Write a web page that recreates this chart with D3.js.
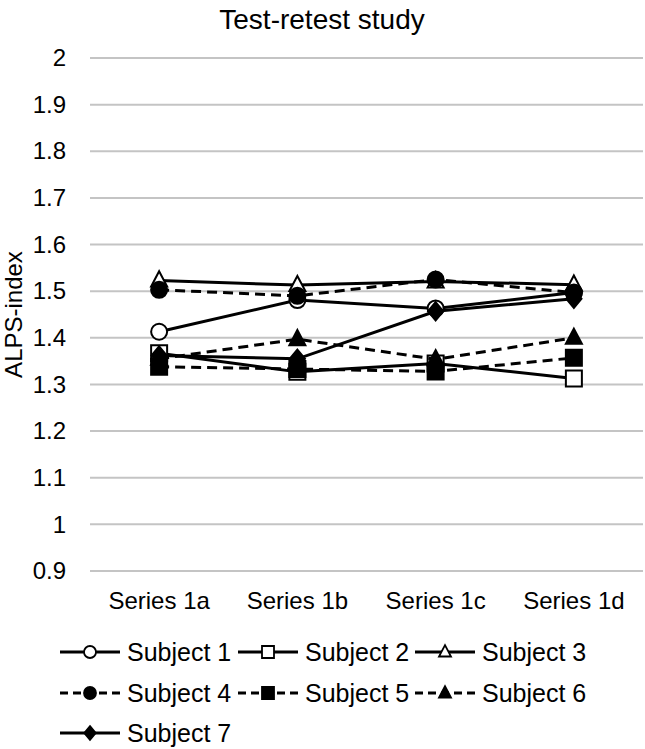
<!DOCTYPE html>
<html>
<head>
<meta charset="utf-8">
<script src="https://cdn.jsdelivr.net/npm/d3@7"></script>
<style>
  html, body { margin: 0; padding: 0; background: #fff; }
  svg { display: block; font-family: "Liberation Sans", Arial, sans-serif; }
</style>
</head>
<body>
<svg id="chart" width="645" height="749"></svg>
<script>
const categories = ["Series 1a", "Series 1b", "Series 1c", "Series 1d"];
const tickValues = [0.9, 1, 1.1, 1.2, 1.3, 1.4, 1.5, 1.6, 1.7, 1.8, 1.9, 2];
const tickLabels = ["0.9", "1", "1.1", "1.2", "1.3", "1.4", "1.5", "1.6", "1.7", "1.8", "1.9", "2"];
const seriesNames = ["Subject 1", "Subject 2", "Subject 3", "Subject 4", "Subject 5", "Subject 6", "Subject 7"];
const subject1 = [1.413, 1.481, 1.463, 1.497];
const subject2 = [1.367, 1.327, 1.345, 1.313];
const subject3 = [1.523, 1.513, 1.521, 1.514];
const subject4 = [1.503, 1.490, 1.525, 1.497];
const subject5 = [1.338, 1.333, 1.328, 1.357];
const subject6 = [1.355, 1.397, 1.354, 1.400];
const subject7 = [1.362, 1.355, 1.457, 1.484];
const seriesValues = [subject1, subject2, subject3, subject4, subject5, subject6, subject7];
const markerTypes = ["circle", "square", "triangle", "circle", "square", "triangle", "diamond"];
const markerFilled = [false, false, false, true, true, true, true];
const lineDashed = [false, false, false, true, true, true, false];

(function () {
const svg = d3.select("#chart");
const pLeft = 90, pRight = 643, pTop = 58, pBottom = 571;
const font = "Liberation Sans, Arial, sans-serif";

const x = d3.scaleBand().domain(categories).range([pLeft, pRight]).padding(0);
const y = d3.scaleLinear().domain([0.9, 2]).range([pBottom, pTop]);

// title
svg.append("text").attr("x", 322).attr("y", 29).attr("text-anchor", "middle")
  .attr("font-size", 28).attr("fill", "#000").text("Test-retest study");

// gridlines
svg.append("g").selectAll("line").data(tickValues).join("line")
  .attr("x1", pLeft).attr("x2", pRight)
  .attr("y1", d => y(d)).attr("y2", d => y(d))
  .attr("stroke", "#c4c4c4").attr("stroke-width", 2);

// y axis labels
const yAxis = d3.axisLeft(y).tickValues(tickValues)
  .tickFormat((d, i) => tickLabels[i]).tickSize(0).tickPadding(0);
const gy = svg.append("g").attr("transform", `translate(${pLeft - 24},0)`).call(yAxis);
gy.select(".domain").remove();
gy.selectAll("text").attr("font-size", 24).attr("fill", "#000").attr("font-family", font);

// x axis labels
const xAxis = d3.axisBottom(x).tickSize(0).tickPadding(0);
const gx = svg.append("g").attr("transform", `translate(0,${pBottom + 21})`).call(xAxis);
gx.select(".domain").remove();
gx.selectAll("text").attr("font-size", 24).attr("fill", "#000").attr("font-family", font);

// y axis title
svg.append("text").attr("transform", `translate(22,${(pTop + pBottom) / 2}) rotate(-90)`)
  .attr("text-anchor", "middle").attr("font-size", 24).attr("fill", "#000").text("ALPS-index");

function markerPath(type, s) {
  if (type === "circle") return d3.symbol(d3.symbolCircle, Math.PI * s * s)();
  if (type === "square") return `M${-s},${-s}H${s}V${s}H${-s}Z`;
  if (type === "triangle") return `M0,${-s * 1.15}L${s},${s * 0.75}L${-s},${s * 0.75}Z`;
  if (type === "diamond") return `M0,${-s * 1.15}L${s * 0.95},0L0,${s * 1.15}L${-s * 0.95},0Z`;
}

const line = d3.line().x((d, i) => x(categories[i]) + x.bandwidth() / 2).y(d => y(d));

const plot = svg.append("g");
seriesValues.forEach((vals, si) => {
  const g = plot.append("g");
  g.append("path").attr("d", line(vals)).attr("fill", "none").attr("stroke", "#000")
    .attr("stroke-width", 3).attr("stroke-dasharray", lineDashed[si] ? "10,6" : null);
  g.selectAll("path.m").data(vals).join("path").attr("class", "m")
    .attr("transform", (d, i) => `translate(${x(categories[i]) + x.bandwidth() / 2},${y(d)})`)
    .attr("d", markerPath(markerTypes[si], 8))
    .attr("fill", markerFilled[si] ? "#000" : "#fff")
    .attr("stroke", "#000").attr("stroke-width", 2);
});

// legend
const legendX = [60, 238, 415];
const legendY = [652, 693, 733];
seriesNames.forEach((name, si) => {
  const lx = legendX[si % 3], ly = legendY[Math.floor(si / 3)];
  const g = svg.append("g").attr("transform", `translate(${lx},${ly})`);
  g.append("line").attr("x1", 0).attr("x2", 60).attr("y1", 0).attr("y2", 0)
    .attr("stroke", "#000").attr("stroke-width", 3)
    .attr("stroke-dasharray", lineDashed[si] ? "8,5" : null);
  g.append("path").attr("transform", "translate(30,0)")
    .attr("d", markerPath(markerTypes[si], 6))
    .attr("fill", markerFilled[si] ? "#000" : "#fff")
    .attr("stroke", "#000").attr("stroke-width", 1.8);
  g.append("text").attr("x", 67).attr("y", 9).attr("font-size", 25).attr("fill", "#000").text(name);
});
})();
</script>
</body>
</html>
